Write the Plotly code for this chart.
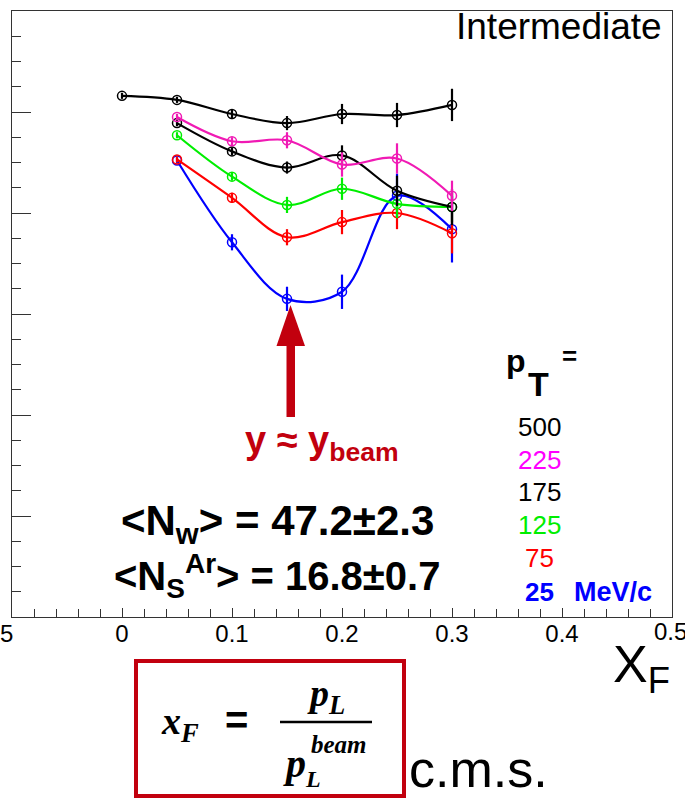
import plotly.graph_objects as go

# ---------------- data ----------------
x_all = [0.0, 0.05, 0.10, 0.15, 0.20, 0.25, 0.30]
x_sub = [0.05, 0.10, 0.15, 0.20, 0.25, 0.30]

pt500 = [5.16, 5.12, 4.98, 4.89, 4.98, 4.97, 5.07]
pt500_err = [0.03, 0.03, 0.05, 0.07, 0.10, 0.12, 0.16]

pt225 = [4.95, 4.71, 4.72, 4.48, 4.54, 4.17]
pt225_err = [0.03, 0.04, 0.08, 0.12, 0.15, 0.15]

pt175 = [4.89, 4.61, 4.45, 4.57, 4.22, 4.06]
pt175_err = [0.03, 0.04, 0.06, 0.10, 0.15, 0.18]

pt125 = [4.77, 4.36, 4.08, 4.24, 4.09, 4.06]
pt125_err = [0.03, 0.04, 0.08, 0.11, 0.14, 0.15]

pt75 = [4.53, 4.15, 3.76, 3.91, 4.00, 3.80]
pt75_err = [0.03, 0.05, 0.08, 0.12, 0.16, 0.20]

pt25 = [4.52, 3.71, 3.15, 3.22, 4.17, 3.84]
pt25_err = [0.03, 0.08, 0.12, 0.17, 0.22, 0.33]

x_ticks = [0.0, 0.1, 0.2, 0.3, 0.4]
x_tick_labels = ["0", "0.1", "0.2", "0.3", "0.4"]

# ---------------- layout geometry ----------------
W, H = 685, 798
L, R, T, B = 12, 672, 11, 617
DARKRED = "#c2000e"
MAGENTA_LINE = "#f01ab4"


def px(x):
    return (x - L) / (R - L)


def py(y):
    return (B - y) / (B - T)


fig = go.Figure()

series = [
    (x_sub, pt25, pt25_err, "#0000ff"),
    (x_sub, pt75, pt75_err, "#ff0000"),
    (x_sub, pt125, pt125_err, "#00ee00"),
    (x_sub, pt175, pt175_err, "#000000"),
    (x_sub, pt225, pt225_err, MAGENTA_LINE),
    (x_all, pt500, pt500_err, "#000000"),
]
for xs, ys, es, c in series:
    fig.add_trace(go.Scatter(
        x=xs, y=ys, mode="lines+markers",
        line=dict(color=c, width=2.2, shape="spline", smoothing=1.0),
        marker=dict(symbol="circle-open", size=9, color=c, line=dict(width=1.5, color=c)),
        error_y=dict(type="data", array=es, visible=True, width=0, thickness=2.2, color=c),
        showlegend=False, cliponaxis=False,
    ))

fig.update_xaxes(
    range=[-0.1, 0.5], showline=True, linecolor="#333333", linewidth=1.2, mirror=True,
    ticks="inside", ticklen=9, tickwidth=1, tickcolor="#333333",
    tickvals=x_ticks, ticktext=x_tick_labels, ticklabelstandoff=-5,
    minor=dict(dtick=0.02, ticks="inside", ticklen=8, tickwidth=1, tickcolor="#333333"),
    showgrid=False, zeroline=False,
    tickfont=dict(family="Liberation Sans", size=24, color="black"),
)
fig.update_yaxes(
    range=[0, 6], showline=True, linecolor="#333333", linewidth=1.2, mirror=True,
    ticks="inside", ticklen=19, tickwidth=1, tickcolor="#333333", dtick=1,
    minor=dict(dtick=0.25, ticks="inside", ticklen=9, tickwidth=1, tickcolor="#333333"),
    showticklabels=False, showgrid=False, zeroline=False,
)

ann = []


def text(s, x, y, size, color="black", family="Liberation Sans", xanchor="center", yanchor="middle"):
    ann.append(dict(text=s, x=px(x), y=py(y), xref="paper", yref="paper",
                    xanchor=xanchor, yanchor=yanchor, showarrow=False,
                    font=dict(family=family, size=size, color=color)))


text("Intermediate", 664, 26, 37, xanchor="right")
text("<b>&lt;N<sub>w</sub>&gt; = 47.2±2.3</b>", 277, 523, 42)
text("<b>&lt;N<sub>S</sub><sup>Ar</sup>&gt; = 16.8±0.7</b>", 277, 576, 40)

# pT legend
text("<b>p</b>", 516, 361, 32)
text("<b>T</b>", 538, 384, 34)
text("<b>=</b>", 569, 356, 26)
text("500", 539, 427, 26)
text("225", 539, 460, 26, color="#ff00ff")
text("175", 539, 492, 26)
text("125", 539, 525, 26, color="#00ee00")
text("75", 539, 558, 26, color="#ff0000")
text("<b>25</b>", 539, 592, 26, color="#0000ff")
text("<b>MeV/c</b>", 572, 592, 27, color="#0000ff", xanchor="left")

# arrow label
text("<b>y ≈ y<sub>beam</sub></b>", 322, 443, 38, color=DARKRED)

# axis title, extra tick label and cropped fragments
text("X<sub>F</sub>", 641, 668, 52)
text("0.5", 670, 631, 24)
text("5", 6, 633, 24)
text("c.m.s.", 478, 769, 52)

# formula box
SER = "Liberation Serif"
text("<b><i>x<sub>F</sub></i></b>", 180, 724, 38, family=SER)
text("<b>=</b>", 237, 720, 40)
text("<b><i>p<sub>L</sub></i></b>", 326, 696, 38, family=SER)
text("<b><i>p</i></b>", 294, 763, 40, family=SER)
text("<b><i>beam</i></b>", 339, 745, 25, family=SER)
text("<b><i>L</i></b>", 313, 779, 24, family=SER)

fig.update_layout(annotations=ann)

shapes = []
# arrow shaft and head
shapes.append(dict(type="rect", xref="paper", yref="paper",
                   x0=px(286.5), x1=px(295), y0=py(417), y1=py(344),
                   fillcolor=DARKRED, line=dict(width=0)))
shapes.append(dict(type="path", xref="paper", yref="paper",
                   path=f"M {px(276.5)},{py(346)} L {px(305)},{py(346)} L {px(290.5)},{py(305)} Z",
                   fillcolor=DARKRED, line=dict(width=0)))
# formula box
shapes.append(dict(type="rect", xref="paper", yref="paper",
                   x0=px(136), x1=px(404), y0=py(796), y1=py(661),
                   line=dict(color=DARKRED, width=4), fillcolor="rgba(0,0,0,0)"))
# fraction bar
shapes.append(dict(type="line", xref="paper", yref="paper",
                   x0=px(280), x1=px(372), y0=py(722), y1=py(722),
                   line=dict(color="black", width=2.5)))
fig.update_layout(shapes=shapes)

fig.update_layout(
    width=W, height=H,
    margin=dict(l=L, r=W - R, t=T, b=H - B),
    paper_bgcolor="white", plot_bgcolor="white",
    font=dict(family="Liberation Sans"),
)

fig.write_html("out.html")
